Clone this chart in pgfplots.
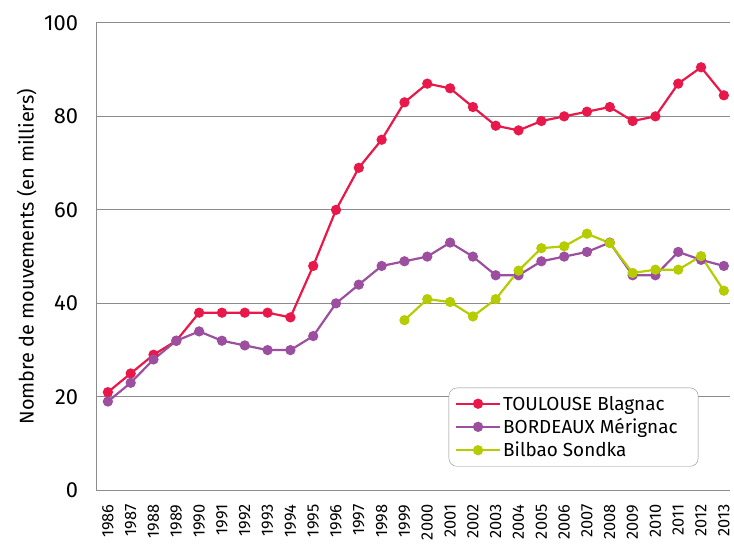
\documentclass[border=0pt]{standalone}
\usepackage{pgfplots}
\pgfplotsset{compat=1.18}
\usepackage{fontspec}
\setmainfont{Fira Sans}
\definecolor{tlse}{HTML}{E8194A}
\definecolor{bdx}{HTML}{9B4F9E}
\definecolor{bio}{HTML}{B5CC00}
\definecolor{gridc}{HTML}{8C8C8C}
\begin{document}
\begin{tikzpicture}
\path[use as bounding box] (-97pt,-58pt) rectangle (641pt,493pt);
\begin{axis}[
  scale only axis, width=637pt, height=470pt,
  xmin=1985.5, xmax=2013.27, ymin=0, ymax=100,
  axis x line*=bottom, axis y line*=left,
  axis line style={gridc, line width=0.8pt},
  ytick={0,20,40,60,80,100},
  ymajorgrids, grid style={gridc, line width=0.8pt},
  ytick style={draw=none},
  xtick={1986,...,2013},
  xticklabels={1986,1987,1988,1989,1990,1991,1992,1993,1994,1995,1996,1997,1998,1999,2000,2001,2002,2003,2004,2005,2006,2007,2008,2009,2010,2011,2012,2013},
  xtick style={draw=none},
  minor xtick={1986.5,1987.5,...,2012.5},
  minor tick length=5pt,
  minor tick style={gridc, line width=0.8pt},
  tick align=inside,
  /pgf/number format/assume math mode=true,
  yticklabel style={font=\fontsize{22}{24}\selectfont, xshift=-15pt},
  xticklabel style={font=\fontsize{16.5}{18}\selectfont, rotate=90, anchor=east, inner sep=0.5pt, xshift=-13.5pt},
  ylabel={Nombre de mouvements (en milliers)},
  ylabel style={font=\fontsize{20}{22}\selectfont, at={(axis description cs:-0.11,0.5)}, anchor=center},
  clip=false,
  legend style={at={(0.556,0.051)}, anchor=south west, draw=gridc, rounded corners=8pt,
     font=\fontsize{19}{21}\selectfont, inner xsep=6pt, inner ysep=6pt, row sep=3pt},
  legend cell align=left,
  legend image code/.code={\draw[mark repeat=2,mark phase=2] plot coordinates {(0cm,0cm)(0.78cm,0cm)(1.56cm,0cm)};},
  every axis plot/.append style={line width=2.2pt, mark=*, mark size=4pt},
]
\addplot[tlse, mark options={fill=tlse}] coordinates {
(1986,21)(1987,25)(1988,29)(1989,32)(1990,38)(1991,38)(1992,38)(1993,38)(1994,37)(1995,48)(1996,60)(1997,69)(1998,75)(1999,83)(2000,87)(2001,86)(2002,82)(2003,78)(2004,77)(2005,79)(2006,80)(2007,81)(2008,82)(2009,79)(2010,80)(2011,87)(2012,90.5)(2013,84.5)};
\addlegendentry{\makebox[188pt][l]{TOULOUSE Blagnac}}
\addplot[bdx, mark options={fill=bdx}] coordinates {
(1986,19)(1987,23)(1988,28)(1989,32)(1990,34)(1991,32)(1992,31)(1993,30)(1994,30)(1995,33)(1996,40)(1997,44)(1998,48)(1999,49)(2000,50)(2001,53)(2002,50)(2003,46)(2004,46)(2005,49)(2006,50)(2007,51)(2008,53)(2009,46)(2010,46)(2011,51)(2012,49.3)(2013,48)};
\addlegendentry{BORDEAUX Mérignac}
\addplot[bio, mark options={fill=bio}] coordinates {
(1999,36.4)(2000,40.9)(2001,40.3)(2002,37.2)(2003,40.9)(2004,47)(2005,51.8)(2006,52.2)(2007,54.9)(2008,52.9)(2009,46.5)(2010,47.2)(2011,47.2)(2012,50.1)(2013,42.7)};
\addlegendentry{Bilbao Sondka}
\end{axis}
\end{tikzpicture}
\end{document}
